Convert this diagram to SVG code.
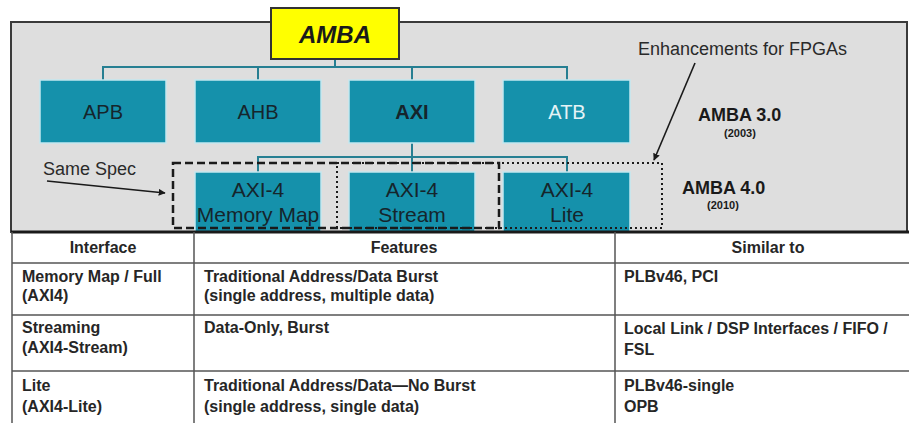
<svg xmlns="http://www.w3.org/2000/svg" width="909" height="423" viewBox="0 0 909 423">
  <defs>
    <marker id="arrow" viewBox="0 0 10 10" refX="9" refY="5" markerWidth="7" markerHeight="7" orient="auto" markerUnits="userSpaceOnUse">
      <path d="M0,0 L10,5 L0,10 z" fill="#1a1a1a"/>
    </marker>
    <style>
      text { font-family: "Liberation Sans", Arial, sans-serif; }
      .bus { fill: #1591ab; stroke: #c4e8f0; stroke-width: 1.5; }
      .bus-label { font-size: 20px; fill: #15252c; text-anchor: middle; }
      .bus-label.light { fill: #e4f3f6; }
      .sub-label { font-size: 21px; fill: #15252c; text-anchor: middle; }
      .tree { fill: none; stroke: #267f92; stroke-width: 2; }
      .note { font-size: 18px; fill: #2a2a2a; }
      .ver { font-size: 18px; font-weight: bold; fill: #1a1a1a; }
      .year { font-size: 11px; font-weight: bold; fill: #1a1a1a; text-anchor: middle; }
      .grid { stroke: #555; stroke-width: 1.5; fill: none; }
      .cell { font-size: 16px; font-weight: bold; fill: #262626; }
      .head { font-size: 16px; font-weight: bold; fill: #262626; text-anchor: middle; }
    </style>
  </defs>

  <rect width="909" height="423" fill="#ffffff"/>

  <!-- family panel -->
  <rect x="11" y="22" width="896" height="210" fill="#dedede" stroke="#3a3a3a" stroke-width="2"/>

  <!-- tree connectors -->
  <g id="connectors">
    <path class="tree" d="M335,59 V67 M103,80 V67 H567 V80 M258,67 V80 M412,67 V80"/>
    <path class="tree" d="M412,143 V172 M258,172 V157 H567 V172"/>
    <line x1="47" y1="181" x2="165" y2="193" stroke="#1a1a1a" stroke-width="1.6" marker-end="url(#arrow)"/>
    <line x1="695" y1="63" x2="654" y2="160" stroke="#1a1a1a" stroke-width="1.6" marker-end="url(#arrow)"/>
  </g>

  <g id="amba">
    <rect x="271" y="8" width="128" height="51" fill="#ffff00" stroke="#333" stroke-width="2"/>
    <text x="335" y="43" font-size="24" font-weight="bold" font-style="italic" text-anchor="middle" fill="#1a1a1a">AMBA</text>
  </g>

  <g id="apb">
    <rect class="bus" x="40" y="80" width="126" height="63"/>
    <text class="bus-label" x="103" y="119">APB</text>
  </g>
  <g id="ahb">
    <rect class="bus" x="195" y="80" width="126" height="63"/>
    <text class="bus-label" x="258" y="119">AHB</text>
  </g>
  <g id="axi">
    <rect class="bus" x="349" y="80" width="126" height="63"/>
    <text class="bus-label" x="412" y="119" font-weight="bold">AXI</text>
  </g>
  <g id="atb">
    <rect class="bus" x="503" y="80" width="127" height="63"/>
    <text class="bus-label light" x="567" y="119">ATB</text>
  </g>

  <g id="axi4-memory-map">
    <rect class="bus" x="195" y="172" width="126" height="62"/>
    <text class="sub-label" x="258" y="197">AXI-4</text>
    <text class="sub-label" x="258" y="222">Memory Map</text>
  </g>
  <g id="axi4-stream">
    <rect class="bus" x="349" y="172" width="126" height="62"/>
    <text class="sub-label" x="412" y="197">AXI-4</text>
    <text class="sub-label" x="412" y="222">Stream</text>
  </g>
  <g id="axi4-lite">
    <rect class="bus" x="503" y="172" width="127" height="62"/>
    <text class="sub-label" x="567" y="197">AXI-4</text>
    <text class="sub-label" x="567" y="222">Lite</text>
  </g>

  <!-- groupings -->
  <g id="same-spec-box">
    <rect x="173" y="163" width="326" height="65" fill="none" stroke="#1a1a1a" stroke-width="2.5" stroke-dasharray="8 4"/>
  </g>
  <g id="fpga-box">
    <rect x="337" y="163" width="325" height="65" fill="none" stroke="#1a1a1a" stroke-width="2" stroke-dasharray="2 3"/>
  </g>

  <g id="labels">
    <text class="note" x="43" y="175">Same Spec</text>
    <text class="note" x="638" y="55">Enhancements for FPGAs</text>
    <text class="ver" x="698" y="121">AMBA 3.0</text>
    <text class="year" x="740" y="137">(2003)</text>
    <text class="ver" x="682" y="194">AMBA 4.0</text>
    <text class="year" x="723" y="209">(2010)</text>
  </g>

  <!-- comparison table -->
  <g id="table">
    <rect x="12" y="232" width="897" height="191" fill="#ffffff"/>
    <line x1="11" y1="232" x2="909" y2="232" stroke="#1a1a1a" stroke-width="3"/>
    <path class="grid" d="M12,232 V423 M194,232 V423 M615,232 V423 M12,263 H909 M12,315 H909 M12,371 H909"/>

    <text class="head" x="103" y="253">Interface</text>
    <text class="head" x="404" y="253">Features</text>
    <text class="head" x="768" y="253">Similar to</text>

    <text class="cell" x="22" y="282">Memory Map / Full</text>
    <text class="cell" x="22" y="301">(AXI4)</text>
    <text class="cell" x="204" y="282">Traditional Address/Data Burst</text>
    <text class="cell" x="204" y="301">(single address, multiple data)</text>
    <text class="cell" x="624" y="282">PLBv46, PCI</text>

    <text class="cell" x="22" y="333">Streaming</text>
    <text class="cell" x="22" y="353">(AXI4-Stream)</text>
    <text class="cell" x="204" y="333">Data-Only, Burst</text>
    <text class="cell" x="624" y="334">Local Link / DSP Interfaces / FIFO /</text>
    <text class="cell" x="624" y="355">FSL</text>

    <text class="cell" x="22" y="391">Lite</text>
    <text class="cell" x="22" y="412">(AXI4-Lite)</text>
    <text class="cell" x="204" y="391">Traditional Address/Data—No Burst</text>
    <text class="cell" x="204" y="412">(single address, single data)</text>
    <text class="cell" x="624" y="391">PLBv46-single</text>
    <text class="cell" x="624" y="412">OPB</text>
  </g>
</svg>
